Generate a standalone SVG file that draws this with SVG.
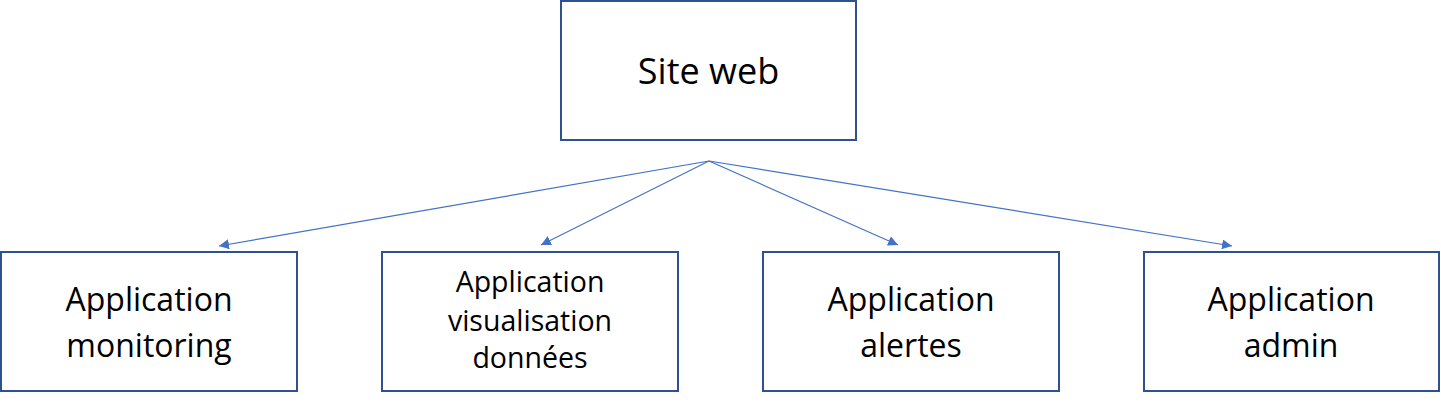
<svg xmlns="http://www.w3.org/2000/svg" width="1441" height="403" viewBox="0 0 1441 403">
<style>
.box{fill:#fff;stroke:#2F528F;stroke-width:2}
.lbl{font-family:"Open Sans","Liberation Sans",sans-serif;fill:#000;text-anchor:middle}
.big{font-size:36px}
.mid{font-size:32px}
.sm{font-size:28.5px}
.conn{stroke:#4472C4;stroke-width:1.2;fill:none;marker-end:url(#ah)}
</style>
<defs>
<marker id="ah" viewBox="0 0 10 10" refX="10" refY="5" markerWidth="10" markerHeight="10" markerUnits="userSpaceOnUse" orient="auto">
<path d="M0,0 L10,5 L0,10 z" fill="#4472C4"/>
</marker>
</defs>
<rect width="1441" height="403" fill="#fff"/>
<g id="site">
<rect class="box" x="561" y="1" width="295" height="139"/>
<text class="lbl big" x="708.5" y="84">Site web</text>
</g>
<g id="monitoring">
<rect class="box" x="1" y="252" width="296" height="139"/>
<text class="lbl mid" x="149" y="311">Application</text>
<text class="lbl mid" x="149" y="357">monitoring</text>
</g>
<g id="visualisation">
<rect class="box" x="382" y="252" width="296" height="139"/>
<text class="lbl sm" x="530" y="292">Application</text>
<text class="lbl sm" x="530" y="331">visualisation</text>
<text class="lbl sm" x="530" y="368">données</text>
</g>
<g id="alertes">
<rect class="box" x="763" y="252" width="296" height="139"/>
<text class="lbl mid" x="911" y="311">Application</text>
<text class="lbl mid" x="911" y="357">alertes</text>
</g>
<g id="admin">
<rect class="box" x="1144" y="252" width="295" height="139"/>
<text class="lbl mid" x="1291" y="311">Application</text>
<text class="lbl mid" x="1291" y="357">admin</text>
</g>
<g id="connectors">
<line class="conn" x1="709" y1="161" x2="219" y2="246"/>
<line class="conn" x1="709" y1="161" x2="541" y2="245"/>
<line class="conn" x1="709" y1="161" x2="898" y2="245"/>
<line class="conn" x1="709" y1="161" x2="1232" y2="246"/>
</g>
</svg>
